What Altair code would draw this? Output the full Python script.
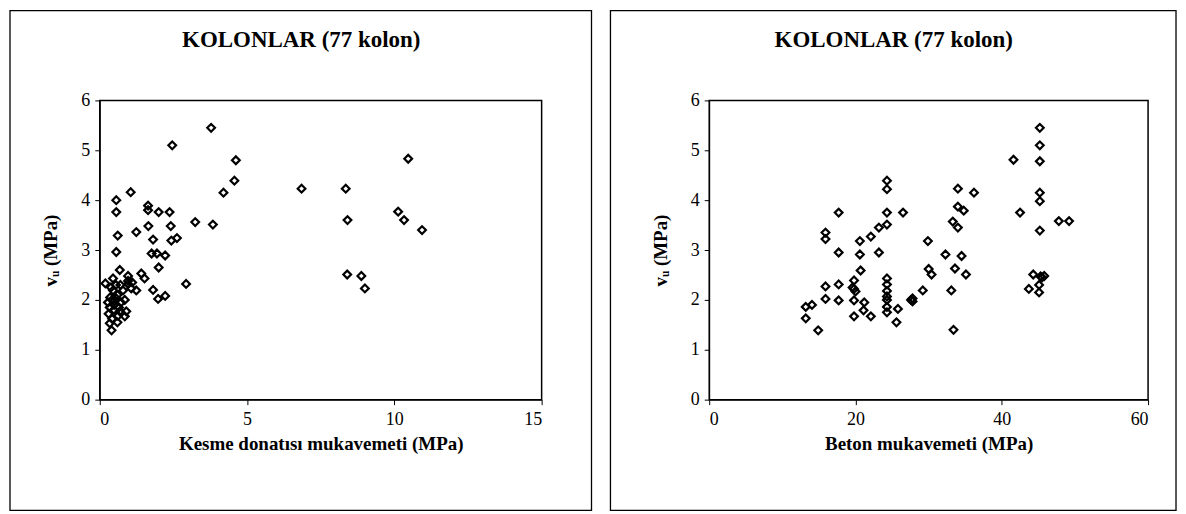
import altair as alt
import pandas as pd

# Left panel: shear reinforcement strength (MPa) vs v_u (MPa)
left_x = [3.78, 2.46, 4.62, 4.57, 4.20, 1.05, 0.56, 0.56, 1.64, 1.64, 2.00, 2.37, 3.24, 3.84,
          1.24, 1.65, 2.41, 0.61, 1.81, 2.43, 2.62, 0.56, 1.76, 1.94, 2.22, 2.00, 2.93, 0.68,
          1.41, 1.52, 0.96, 0.96, 1.81, 2.22, 1.98, 1.24, 0.19, 0.45, 1.07,
          10.47, 6.85, 8.35, 8.41, 10.13, 10.33, 10.94, 8.40, 8.88, 9.00,
          0.85, 0.40, 0.34, 0.42, 0.62, 0.85, 0.90, 0.68, 0.34, 0.49, 0.28, 0.42, 0.56, 0.60,
          0.45, 0.79, 0.96, 0.50, 0.35, 0.65, 0.72, 0.30, 0.55, 0.38, 0.70, 0.48, 0.60, 1.10]
left_y = [5.45, 5.10, 4.80, 4.39, 4.15, 4.16, 4.00, 3.76, 3.89, 3.80, 3.76, 3.76, 3.56, 3.51,
          3.36, 3.48, 3.48, 3.29, 3.21, 3.19, 3.24, 2.96, 2.93, 2.93, 2.89, 2.65, 2.32, 2.60,
          2.53, 2.43, 2.48, 2.38, 2.20, 2.08, 2.02, 2.19, 2.33, 2.43, 2.23,
          4.83, 4.23, 4.23, 3.60, 3.77, 3.60, 3.40, 2.51, 2.48, 2.23,
          2.00, 1.39, 1.53, 1.62, 1.68, 1.67, 1.77, 1.77, 1.85, 1.90, 1.95, 2.00, 2.03, 2.10,
          2.19, 2.19, 2.32, 1.98, 2.05, 1.85, 1.95, 1.72, 2.30, 2.25, 2.30, 1.80, 1.55, 2.35]

# Right panel: concrete strength (MPa) vs v_u (MPa)
right_x = [17.7, 24.3, 26.5, 15.9, 15.9, 24.3, 23.2, 22.1, 20.6, 17.7, 20.6, 23.2, 20.7, 19.8,
           15.9, 17.7, 19.8, 20.0, 15.9, 17.7, 19.8, 21.2, 21.1, 22.1, 19.8, 13.2, 14.05, 13.2,
           14.9, 24.3, 24.3, 24.3, 24.3, 24.3, 24.3, 25.8, 25.6, 24.3, 24.3, 29.9, 30.0, 30.4,
           45.2, 45.2, 45.2, 41.6, 34.0, 36.2, 45.2, 45.2, 34.0, 34.8, 42.5, 47.8, 49.2, 33.3,
           34.0, 45.2, 32.3, 34.5, 33.6, 35.1, 44.3, 45.3, 45.8, 43.7, 45.1, 45.1, 29.2, 33.1,
           27.8, 27.8, 33.4, 19.6, 27.6, 45.5, 24.3]
right_y = [3.75, 3.75, 3.75, 3.35, 3.22, 3.51, 3.45, 3.27, 3.18, 2.95, 2.91, 2.95, 2.59, 2.39,
           2.27, 2.31, 2.22, 2.17, 2.02, 1.99, 1.99, 1.95, 1.79, 1.67, 1.67, 1.86, 1.90, 1.63,
           1.39, 2.43, 2.31, 2.18, 2.07, 1.86, 1.75, 1.82, 1.55, 4.39, 4.22, 3.18, 2.62, 2.51,
           5.45, 5.10, 4.78, 4.81, 4.23, 4.15, 4.15, 3.98, 3.87, 3.79, 3.75, 3.58, 3.58, 3.57,
           3.45, 3.39, 2.91, 2.88, 2.63, 2.51, 2.51, 2.47, 2.48, 2.22, 2.30, 2.15, 2.19, 2.19,
           2.03, 1.97, 1.40, 2.25, 2.00, 2.45, 2.00]

title_text = "KOLONLAR (77 kolon)"
y_title = "vᵤ (MPa)"
left_xtitle = "Kesme donatısı mukavemeti (MPa)"
right_xtitle = "Beton mukavemeti (MPa)"
left_ticks = [0, 5, 10, 15]
right_ticks = [0, 20, 40, 60]
y_ticks = [0, 1, 2, 3, 4, 5, 6]

SERIF = "Liberation Serif"
one = pd.DataFrame({"k": [0]})


def panel(xs, ys, xmax, xticks, xtitle, width, box_l, box_r, title_cx):
    df = pd.DataFrame({"x": xs, "y": ys})
    pts = alt.Chart(df).mark_point(
        shape="diamond", filled=False, color="black", size=60, strokeWidth=2.2, opacity=1
    ).encode(
        x=alt.X("x:Q", scale=alt.Scale(domain=[0, xmax], nice=False),
                axis=alt.Axis(values=xticks, title=xtitle, grid=False, format="d",
                              labelFont=SERIF, labelFontSize=18, labelColor="black",
                              labelPadding=6, tickColor="black", tickSize=5,
                              domainColor="black", titleFont=SERIF, titleFontSize=19,
                              titleFontWeight="bold", titleColor="black", titlePadding=6)),
        y=alt.Y("y:Q", scale=alt.Scale(domain=[0, 6], nice=False),
                axis=alt.Axis(values=y_ticks, title=y_title, grid=False, format="d",
                              labelFont=SERIF, labelFontSize=18, labelColor="black",
                              labelPadding=5, tickColor="black", tickSize=5,
                              domainColor="black", titleFont=SERIF, titleFontSize=19,
                              titleFontWeight="bold", titleColor="black", titlePadding=20)),
    )
    box = alt.Chart(one).mark_rect(fill="transparent", stroke="black", strokeWidth=1.3).encode(
        x=alt.value(box_l), x2=alt.value(box_r), y=alt.value(-90), y2=alt.value(411)
    )
    ttl = alt.Chart(one).mark_text(
        text=title_text, font=SERIF, fontSize=23, fontWeight="bold", color="black",
        align="center", baseline="alphabetic"
    ).encode(x=alt.value(title_cx), y=alt.value(-54))
    return alt.layer(box, ttl, pts).properties(width=width, height=300)


left = panel(left_x, left_y, 15, left_ticks, left_xtitle, 443, -90, 493, 202)
right = panel(right_x, right_y, 60, right_ticks, right_xtitle, 440, -99, 468, 185)

chart = alt.hconcat(left, right, spacing=15).properties(
    padding={"left": 0, "top": 0, "right": 0, "bottom": 0}, background="white"
).configure_view(stroke="black", strokeWidth=1.5)

chart.save("out.html", embed_options={"renderer": "svg", "actions": False})
